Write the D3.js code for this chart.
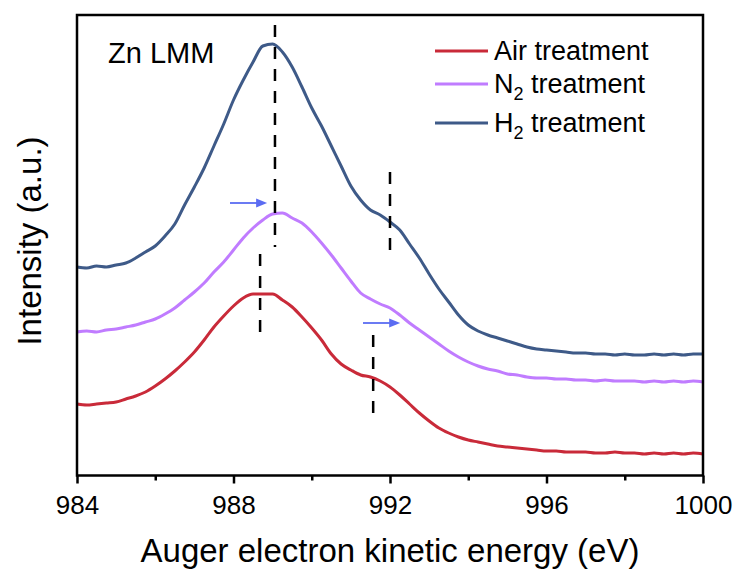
<!DOCTYPE html>
<html><head><meta charset="utf-8">
<script src="https://cdn.jsdelivr.net/npm/d3@7"></script>
<style>html,body{margin:0;padding:0;background:#fff;} svg{display:block;font-family:"Liberation Sans",Arial,Helvetica,sans-serif;}</style>
</head><body><svg id="c" width="737" height="574"></svg>
<script>
// ---- data (intensity in arbitrary units) ----
const energy = [984,984.25,984.5,984.75,985,985.25,985.5,985.75,986,986.25,986.5,986.75,987,987.25,987.5,987.75,988,988.25,988.5,988.75,989,989.25,989.5,989.75,990,990.25,990.5,990.75,991,991.25,991.5,991.75,992,992.25,992.5,992.75,993,993.25,993.5,993.75,994,994.25,994.5,994.75,995,995.25,995.5,995.75,996,996.25,996.5,996.75,997,997.25,997.5,997.75,998,998.25,998.5,998.75,999,999.25,999.5,999.75,1000];
const airTreatment = [71,70,71,72,73,76,79,83,89,96,104,113,123,135,148,159,169,177,181,181,181,175,168,158,147,135,121,111,105,100,98,94,88,80,71,62,54,47,42,38,35,33,31,29,28,27,26,25,24,24,23,23,23,22,22,23,22,22,21,22,21,22,21,22,21];
const n2Treatment = [143,144,143,145,146,148,150,153,156,161,167,175,183,192,203,213,225,237,247,255,261,262,257,252,243,232,220,207,194,182,176,171,167,160,152,145,138,131,124,118,113,109,106,104,101,100,98,97,97,96,96,95,95,94,95,94,94,94,93,94,93,94,93,94,93];
const h2Treatment = [208,207,209,208,210,212,217,223,229,239,251,270,288,307,329,351,375,395,413,429,431,423,408,388,367,349,329,309,289,275,265,260,253,245,231,217,201,186,173,160,150,144,140,137,134,131,128,126,125,124,123,122,122,121,121,120,121,120,120,121,120,121,120,121,121];
const xTicks = [984, 988, 992, 996, 1000];
const xMinorTicks = [986, 990, 994, 998];
const seriesLabels = ["Air", "N2", "H2"];
const seriesColors = ["#C92A39", "#C07CFF", "#3E5A88"];
// dashed peak markers: energy, intensity from / to
const markerEnergy = [989.06, 988.68, 992.0, 991.57];
const markerFrom = [450, 221, 303, 140];
const markerTo = [228, 137, 220, 55];
// shift arrows: start energy, end energy, intensity
const arrowStart = [987.91, 991.31];
const arrowEnd = [988.86, 992.26];
const arrowLevel = [272, 152];

// ---- layout ----
const L = 77, R = 703, T = 15, B = 475.5;
const svg = d3.select("#c");
const x = d3.scaleLinear().domain([984, 1000]).range([L, R]);
const y = d3.scaleLinear().domain([0, 460]).range([475, 15]);

const seriesData = [airTreatment, n2Treatment, h2Treatment];
const line = d3.line().x((d, i) => x(energy[i])).y(d => y(d)).curve(d3.curveMonotoneX);

svg.append("g").selectAll("path").data(seriesData).join("path")
  .attr("d", d => line(d))
  .attr("fill", "none")
  .attr("stroke", (d, i) => seriesColors[i])
  .attr("stroke-width", 3)
  .attr("stroke-linejoin", "round");

// dashed markers
svg.append("g").selectAll("line").data(markerEnergy).join("line")
  .attr("x1", d => x(d)).attr("x2", d => x(d))
  .attr("y1", (d, i) => y(markerFrom[i])).attr("y2", (d, i) => y(markerTo[i]))
  .attr("stroke", "#000").attr("stroke-width", 2.5)
  .attr("stroke-dasharray", "12,10");

// arrows
const arrowColor = "#5B6CF2";
const ag = svg.append("g");
arrowStart.forEach((e0, i) => {
  const x0 = x(e0), x1 = x(arrowEnd[i]), yy = y(arrowLevel[i]);
  ag.append("line").attr("x1", x0).attr("x2", x1 - 8).attr("y1", yy).attr("y2", yy)
    .attr("stroke", arrowColor).attr("stroke-width", 1.8);
  ag.append("path").attr("d", `M${x1},${yy} L${x1 - 11},${yy - 4.5} L${x1 - 11},${yy + 4.5} Z`)
    .attr("fill", arrowColor);
});

// frame
svg.append("rect").attr("x", L).attr("y", T).attr("width", R - L).attr("height", B - T)
  .attr("fill", "none").attr("stroke", "#000").attr("stroke-width", 2.5);

// x axis
const ax = svg.append("g").attr("transform", `translate(0,${B})`)
  .call(d3.axisBottom(x).tickValues(xTicks).tickSize(8).tickPadding(12).tickFormat(d3.format("d")));
ax.select(".domain").remove();
ax.selectAll("line").attr("stroke", "#000").attr("stroke-width", 2.5);
ax.selectAll("text").attr("font-size", 26).attr("fill", "#000").attr("font-family", "Liberation Sans, Arial, sans-serif");
const axm = svg.append("g").attr("transform", `translate(0,${B})`)
  .call(d3.axisBottom(x).tickValues(xMinorTicks).tickSize(5).tickFormat(""));
axm.select(".domain").remove();
axm.selectAll("line").attr("stroke", "#000").attr("stroke-width", 2.5);

// axis titles
svg.append("text").attr("x", (L + R) / 2).attr("y", 562).attr("text-anchor", "middle")
  .attr("font-size", 33).attr("fill", "#000").text("Auger electron kinetic energy (eV)");
svg.append("text").attr("transform", "translate(41,241) rotate(-90)").attr("text-anchor", "middle")
  .attr("font-size", 33).attr("fill", "#000").text("Intensity (a.u.)");

// label
svg.append("text").attr("x", 108).attr("y", 63).attr("font-size", 29).attr("fill", "#000").text("Zn LMM");

// legend
const legY = [51, 84, 123];
const lg = svg.append("g");
seriesLabels.forEach((s, i) => {
  lg.append("line").attr("x1", 435).attr("x2", 488).attr("y1", legY[i]).attr("y2", legY[i])
    .attr("stroke", seriesColors[i]).attr("stroke-width", 3);
  const t = lg.append("text").attr("x", 494).attr("y", legY[i] + 9).attr("font-size", 27).attr("fill", "#000");
  if (s.length === 2 && s[1] === "2") {
    t.append("tspan").text(s[0]);
    t.append("tspan").attr("font-size", 18).attr("dy", 7).text("2");
    t.append("tspan").attr("dy", -7).text(" treatment");
  } else {
    t.text(s + " treatment");
  }
});
</script></body></html>
